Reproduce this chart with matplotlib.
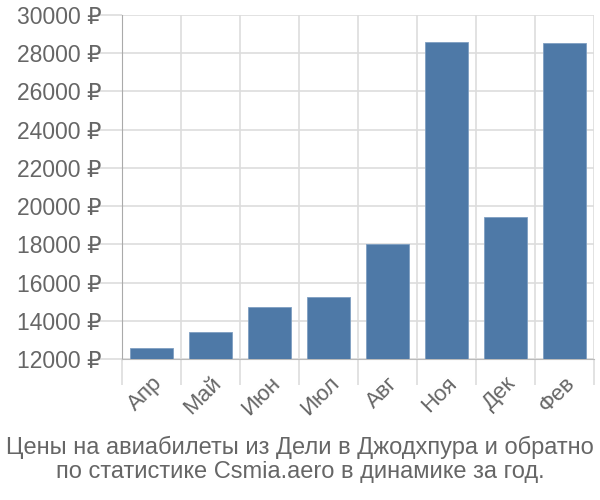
import matplotlib.pyplot as plt

plt.rcParams['font.family'] = ['Liberation Sans', 'DejaVu Sans']

months = ["Апр", "Май", "Июн", "Июл", "Авг", "Ноя", "Дек", "Фев"]
prices = [12580, 13400, 14700, 15260, 18030, 28600, 19430, 28520]
yticks = list(range(12000, 30001, 2000))

fig = plt.figure(figsize=(6, 5), dpi=100)
ax = fig.add_axes([122 / 600, 1 - 359 / 500, 472 / 600, 344 / 500])

x = range(len(months))
ax.bar(x, [p - 12000 for p in prices], bottom=12000, width=0.72,
       color='#4e79a7', edgecolor='#7f9fc2', linewidth=0.6, zorder=3)

ax.set_xlim(-0.5, len(months) - 0.5)
ax.set_ylim(12000, 30000)
ax.set_yticks(yticks)
ax.set_yticklabels([f"{t} ₽" for t in yticks])
ax.set_xticks([i - 0.5 for i in range(len(months) + 1)], minor=False)
ax.set_xticklabels([])
ax.set_xticks(list(x), minor=True)
ax.set_xticklabels(months, minor=True, rotation=45, ha='right',
                   rotation_mode='anchor')

ax.grid(True, which='major', color='#dddddd', linewidth=1.2, zorder=0)
ax.tick_params(axis='y', length=20, color='#dddddd', width=1.2,
               labelsize=16.5, labelcolor='#666666', pad=-5)
ax.tick_params(axis='x', which='major', length=19, color='#dddddd', width=1.2)
ax.tick_params(axis='x', which='minor', length=0, labelsize=16,
               labelcolor='#666666', pad=10)

for s in ['top', 'right']:
    ax.spines[s].set_visible(False)
ax.spines['left'].set_color('#aaaaaa')
ax.spines['left'].set_bounds(12000, 30000)
ax.spines['bottom'].set_color('#bbbbbb')

fig.text(0.5, 1 - 447 / 500, "Цены на авиабилеты из Дели в Джодхпура и обратно",
         ha='center', va='center', fontsize=17, color='#666666')
fig.text(0.5, 1 - 472 / 500, "по статистике Csmia.aero в динамике за год.",
         ha='center', va='center', fontsize=17, color='#666666')

fig.savefig("out.png", dpi=100)
